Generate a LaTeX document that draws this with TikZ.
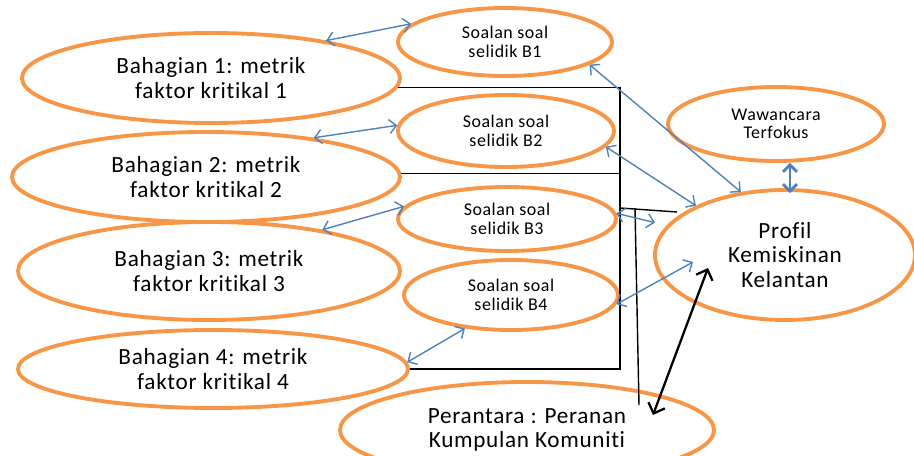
\documentclass[tikz,border=0pt]{standalone}
\usepackage{fontspec}
\setmainfont[Ligatures=NoCommon, LetterSpace=3]{Carlito}
\usetikzlibrary{shapes.geometric,arrows.meta,calc}
\definecolor{ovalorange}{RGB}{247,150,70}
\definecolor{linkblue}{RGB}{79,129,189}
\newcommand\pxu{0.02cm}
\tikzset{
	oval/.style={ellipse, draw=ovalorange, line width=2.2pt, inner sep=0pt, align=center},
	bigtext/.style={font=\fontsize{13.2}{14}\selectfont},
	smalltext/.style={font=\fontsize{10.2}{10.5}\selectfont},
	bluelink/.style={draw=linkblue, line width=0.8pt,
		{Straight Barb[length=4pt,width=8pt]}-{Straight Barb[length=4pt,width=8pt]}},
	blacklink/.style={draw=black, line width=1.3pt,
		{Straight Barb[length=5pt,width=10pt]}-{Straight Barb[length=5pt,width=10pt]}},
	bracket/.style={draw=black, line width=0.8pt},
}
\begin{document}
\begin{tikzpicture}[x=0.02cm, y=-0.02cm]
	\useasboundingbox (0,0) rectangle (914,456);
	\clip (0,0) rectangle (914,456);

	\node[oval, bigtext, minimum width=378*\pxu, minimum height=90*\pxu] (e1) at (211,78)
		{Bahagian 1: metrik\\faktor kritikal 1};
	\node[oval, bigtext, minimum width=388*\pxu, minimum height=90*\pxu] (e2) at (206,177)
		{Bahagian 2: metrik\\faktor kritikal 2};
	\node[oval, bigtext, minimum width=382*\pxu, minimum height=98*\pxu] (e3) at (209,271)
		{Bahagian 3: metrik\\faktor kritikal 3};
	\node[oval, bigtext, minimum width=390*\pxu, minimum height=78*\pxu] (e4) at (213,369)
		{Bahagian 4: metrik\\faktor kritikal 4};

	\node[oval, smalltext, minimum width=214*\pxu, minimum height=68*\pxu] (b1) at (505,42)
		{Soalan soal\\selidik B1};
	\node[oval, smalltext, minimum width=216*\pxu, minimum height=72*\pxu] (b2) at (506,131)
		{Soalan soal\\selidik B2};
	\node[oval, smalltext, minimum width=218*\pxu, minimum height=64*\pxu] (b3) at (507,219)
		{Soalan soal\\selidik B3};
	\node[oval, smalltext, minimum width=214*\pxu, minimum height=70*\pxu] (b4) at (511,295)
		{Soalan soal\\selidik B4};

	\node[oval, smalltext, minimum width=216*\pxu, minimum height=74*\pxu] (wawa) at (776,124)
		{Wawancara\\Terfokus};
	\node[oval, bigtext, minimum width=260*\pxu, minimum height=130*\pxu] (prof) at (785,255)
		{Profil\\Kemiskinan\\Kelantan};
	\node[oval, bigtext, minimum width=374*\pxu, minimum height=96*\pxu] (pera) at (527,430)
		{Perantara : Peranan\\Kumpulan Komuniti};

	\coordinate (bx) at (620,87);
	\coordinate (vt) at (635,208);
	\coordinate (vb) at (639,405);
	\coordinate (hr) at (677,212);

	\draw[bracket] (e1.-3) -- (e1.-3 -| bx) -- (e4.east -| bx) -- (e4.east);
	\draw[bracket] (e2.1.5) -- (e2.1.5 -| bx);
	\draw[bracket] ($(e3.east)+(0,-17)$) -- ($(e3.east)+(0,-17)$ -| bx);
	\draw[bracket] (vt) -- (vb);
	\draw[bracket] (bx |- vt) -- (hr);

	\draw[bluelink] (e1.18) -- (b1.169);
	\draw[bluelink] (e2.20) -- (b2.177);
	\draw[bluelink] (e3.20) -- (b3.173);
	\draw[bluelink] (e4.2) -- (b4.216);

	\draw[bluelink] (b1.-15) -- (prof.125);
	\draw[bluelink] (b2.-9) -- (prof.151);
	\draw[bluelink, shorten >=0.24cm] (b3.3) -- (prof.166);
	\draw[bluelink] (b4.-5) -- ($(prof.center)+(-92,7)$);
	\draw[bluelink, line width=1.6pt] ($(wawa.south)+(14,0)$) -- ($(prof.north)+(5,5)$);

	\draw[blacklink] ($(prof.center)+(-77,13)$) -- ($(pera.center)+(126,-15)$);
\end{tikzpicture}
\end{document}
